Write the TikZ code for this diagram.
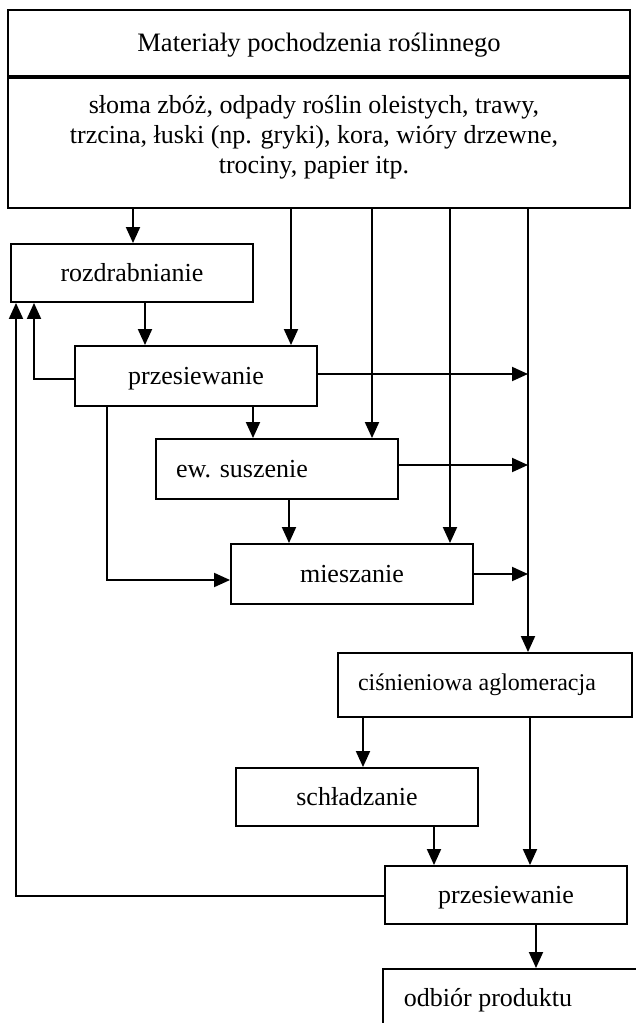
\documentclass[tikz,border=0pt]{standalone}
\usepackage{fontspec}
\setmainfont{Liberation Serif}
\usetikzlibrary{arrows.meta,calc}
\newcommand\dfont{\fontsize{26}{30}\selectfont}
\newcommand\smallboxfont{\fontsize{24}{28}\selectfont}
\begin{document}
\begin{tikzpicture}[x=1pt,y=-1pt,
  box/.style={draw, line width=1.9pt, inner sep=0pt, minimum height=58pt, minimum width=242pt, font=\dfont, text height=19pt, text depth=3pt},
  arr/.style={line width=1.9pt, -{Triangle[length=16pt,width=14pt]}}]
\useasboundingbox (0,0) rectangle (636,1023);
\clip (0,0) rectangle (636,1023);
% boxes
\node[box, minimum width=622pt, minimum height=66pt, font=\fontsize{26.6}{30}\selectfont] (hdr) at (319,43) {Materiały pochodzenia roślinnego};
\node[box, minimum width=622pt, minimum height=130pt] (src) at (319,143) {};
\node[font=\dfont, align=center, inner sep=0pt] (srct) at (314,137) {słoma zbóż, odpady roślin oleistych, trawy,\\trzcina, łuski (np. gryki), kora, wióry drzewne,\\trociny, papier itp.};
\node[box] (rozd) at (132,273) {rozdrabnianie};
\node[box, minimum height=60pt] (prz1) at (196,376) {przesiewanie};
\node[box, minimum height=60pt] (sus) at (277,469) {\makebox[242pt][l]{\hspace{20pt}ew. suszenie}};
\node[box, minimum height=60pt] (mie) at (352,574) {mieszanie};
\node[box, minimum height=64pt, font=\smallboxfont] (cis) at (485,685) {\makebox[294pt][l]{\hspace{20pt}\raisebox{3pt}{ciśnieniowa aglomeracja}}};
\node[box] (sch) at (357,797) {schładzanie};
\node[box] (prz2) at (506,895) {przesiewanie};
\node[box, anchor=north west, minimum height=60pt] (odb) at (382,968) {\makebox[300pt][l]{\hspace{21pt}odbiór produktu}};
% columns and rows
\coordinate (c133) at (133,0);
\coordinate (c145) at (145,0);
\coordinate (c291) at (291,0);
\coordinate (c372) at (372,0);
\coordinate (c450) at (450,0);
\coordinate (bus) at (528,0);
\coordinate (c253) at (253,0);
\coordinate (c289) at (289,0);
\coordinate (c107) at (107,0);
\coordinate (c34) at (34,0);
\coordinate (c16) at (16,0);
\coordinate (c363) at (363,0);
\coordinate (c530) at (530,0);
\coordinate (c434) at (434,0);
\coordinate (c536) at (536,0);
\coordinate (r374) at (0,374);
\coordinate (r465) at (0,465);
\coordinate (r574) at (0,574);
\coordinate (r580) at (0,580);
\coordinate (r379) at (0,379);
\coordinate (r896) at (0,896);
% connectors
\draw[arr] (src.south -| c133) -- (rozd.north -| c133);
\draw[arr] (rozd.south -| c145) -- (prz1.north -| c145);
\draw[arr] (src.south -| c291) -- (prz1.north -| c291);
\draw[arr] (src.south -| c372) -- (sus.north -| c372);
\draw[arr] (src.south -| c450) -- (mie.north -| c450);
\draw[arr] (src.south -| bus) -- (cis.north -| bus);
\draw[arr] (prz1.east |- r374) -- (bus |- r374);
\draw[arr] (sus.east |- r465) -- (bus |- r465);
\draw[arr] (mie.east |- r574) -- (bus |- r574);
\draw[arr] (prz1.south -| c253) -- (sus.north -| c253);
\draw[arr] (sus.south -| c289) -- (mie.north -| c289);
\draw[arr] (prz1.south -| c107) |- (mie.west |- r580);
\draw[arr] (prz1.west |- r379) -| (rozd.south -| c34);
\draw[arr] (prz2.west |- r896) -| (rozd.south -| c16);
\draw[arr] (cis.south -| c363) -- (sch.north -| c363);
\draw[arr] (cis.south -| c530) -- (prz2.north -| c530);
\draw[arr] (sch.south -| c434) -- (prz2.north -| c434);
\draw[arr] (prz2.south -| c536) -- (odb.north -| c536);
\end{tikzpicture}
\end{document}
